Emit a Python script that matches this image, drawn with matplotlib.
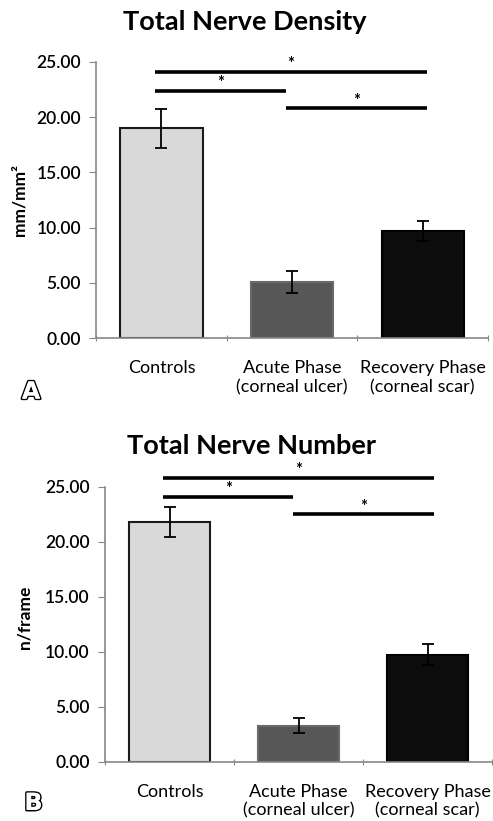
import matplotlib
matplotlib.use("Agg")
import matplotlib.pyplot as plt
import matplotlib.patheffects as pe
import numpy as np

plt.rcParams['font.family'] = ['Lato', 'DejaVu Sans']

groups = ["Controls", "Acute Phase\n(corneal ulcer)", "Recovery Phase\n(corneal scar)"]
bar_colors = ["#d9d9d9", "#575757", "#0c0c0c"]
edge_colors = ["#1a1a1a", "#6a6a6a", "#000000"]

density = [19.0, 5.1, 9.7]
density_err = [1.75, 1.0, 0.9]
number = [21.8, 3.3, 9.75]
number_err = [1.35, 0.65, 0.95]

yticks = [0, 5, 10, 15, 20, 25]

# significance bars: (x start, x end, height)
density_sig = [(-0.05, 2.03, 24.1), (-0.05, 0.955, 22.4), (0.955, 2.03, 20.8)]
number_sig = [(-0.05, 2.05, 25.8), (-0.05, 0.96, 24.1), (0.96, 2.05, 22.5)]


def draw_panel(ax, vals, errs, sig, title, title_xy, ylabel, ylabel_xy, letter, letter_xy):
    x = np.arange(len(groups))
    ax.bar(x, vals, width=0.63, color=bar_colors, edgecolor=edge_colors, linewidth=1.5, zorder=2)
    ax.errorbar(x, vals, yerr=errs, fmt="none", ecolor="black", elinewidth=1.3,
                capsize=4, capthick=1.3, zorder=3)
    ax.set_xlim(-0.5, 2.5)
    ax.set_ylim(0, 25)
    ax.set_yticks(yticks)
    ax.set_yticklabels([f"{v:.2f}" for v in yticks], fontsize=12.5, fontweight="semibold")
    ax.set_xticks([-0.5, 0.5, 1.5, 2.5], minor=False)
    ax.set_xticklabels([])
    ax.set_xticks(x, minor=True)
    ax.set_xticklabels(groups, minor=True, fontsize=13, linespacing=1.2)
    ax.tick_params(axis="x", which="minor", length=0, pad=16)
    ax.tick_params(axis="x", which="major", length=5, color="#888888", direction="inout")
    ax.tick_params(axis="y", length=5, color="#888888", direction="out", pad=6)
    for s in ["top", "right"]:
        ax.spines[s].set_visible(False)
    for s in ["left", "bottom"]:
        ax.spines[s].set_color("#888888")
        ax.spines[s].set_linewidth(1.2)
    ax.set_ylabel(ylabel, fontsize=12.5, fontweight="bold")
    ax.yaxis.set_label_coords(*ylabel_xy)
    ax.text(title_xy[0], title_xy[1], title, transform=ax.transAxes, fontsize=19.5,
            fontweight="bold", ha="center", va="center")
    for x0, x1, h in sig:
        ax.plot([x0, x1], [h, h], color="black", lw=2.6, clip_on=False, solid_capstyle="butt")
        ax.text((x0 + x1) / 2, h + 0.25, "*", ha="center", va="baseline", fontsize=12,
                fontweight="bold", clip_on=False)
    t = ax.figure.text(letter_xy[0], letter_xy[1], letter, fontsize=17, fontweight="bold",
                       color="white", ha="center", va="center", family="DejaVu Sans")
    t.set_path_effects([pe.withStroke(linewidth=2.2, foreground="black"), pe.Normal()])


fig = plt.figure(figsize=(4.93, 8.21), dpi=100)
ax1 = fig.add_axes([0.195, 0.588, 0.795, 0.3365])
ax2 = fig.add_axes([0.213, 0.072, 0.785, 0.335])

draw_panel(ax1, density, density_err, density_sig, "Total Nerve Density", (0.38, 1.145),
           "mm/mm²", (-0.176, 0.5), "A", (0.063, 0.523))
draw_panel(ax2, number, number_err, number_sig, "Total Nerve Number", (0.379, 1.147),
           "n/frame", (-0.188, 0.527), "B", (0.068, 0.022))

fig.savefig("out.png", dpi=100)
